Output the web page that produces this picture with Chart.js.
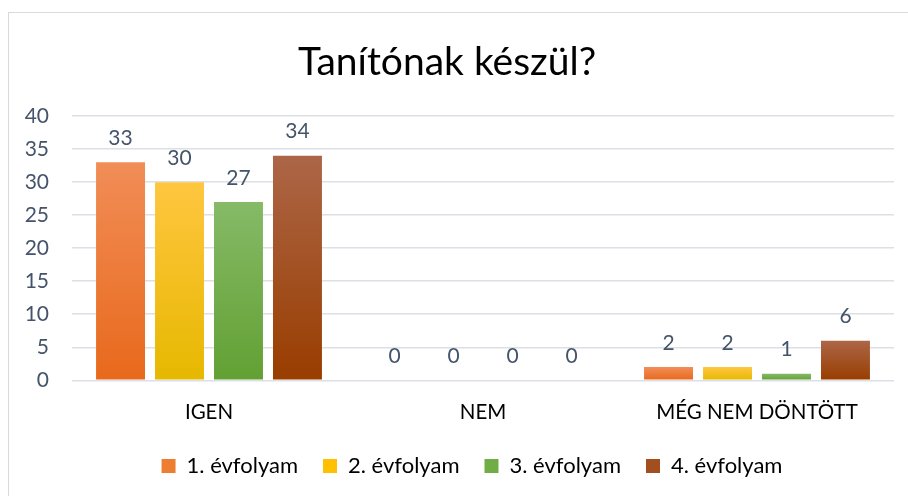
<!DOCTYPE html>
<html>
<head>
<meta charset="utf-8">
<script src="https://cdn.jsdelivr.net/npm/chart.js@4/dist/chart.umd.min.js"></script>
<style>
  html, body { margin: 0; padding: 0; background: #fff; overflow: hidden; }
  #wrap { width: 908px; height: 496px; position: relative; }
</style>
</head>
<body>
<div id="wrap"><canvas id="chart" width="908" height="496"></canvas></div>
<script>
// data
const categories = ["IGEN", "NEM", "MÉG NEM DÖNTÖTT"];
const seriesNames = ["1. évfolyam", "2. évfolyam", "3. évfolyam", "4. évfolyam"];
const evf1 = [33, 0, 2];
const evf2 = [30, 0, 2];
const evf3 = [27, 0, 1];
const evf4 = [34, 0, 6];
const yTicks = [0, 5, 10, 15, 20, 25, 30, 35, 40];

// top / bottom colours of each bar gradient
const tops = ["#F18D57", "#FFC640", "#86BA67", "#AC6647"];
const bottoms = ["#E8691C", "#E6B800", "#62A033", "#993D00"];
const mids = ["#ED7D31", "#FFC000", "#70AD47", "#A34E1F"];

const FONT = "Lato, 'Open Sans', sans-serif";

function barFill(i) {
  return function (ctx) {
    const chart = ctx.chart;
    if (!chart.chartArea || ctx.type !== "data") return mids[i];
    const y = chart.scales.y;
    const yTop = y.getPixelForValue(ctx.raw);
    const yBase = y.getPixelForValue(0);
    if (yBase - yTop < 1) return mids[i];
    const g = chart.ctx.createLinearGradient(0, yTop, 0, yBase);
    g.addColorStop(0, tops[i]);
    g.addColorStop(1, bottoms[i]);
    return g;
  };
}

// outer frame of the chart
const framePlugin = {
  id: "frame",
  beforeDraw(chart) {
    const c = chart.ctx;
    c.save();
    c.strokeStyle = "#D9D9D9";
    c.lineWidth = 1;
    c.strokeRect(8.5, 12.5, 1000, 1000);
    c.restore();
  }
};

// the legend row sits a bit right of centre in the original
const legendShift = {
  id: "legendShift",
  afterLayout(chart) {
    chart.legend.left += 25;
    chart.legend.right += 25;
  }
};

// value labels above the bars
const valueLabels = {
  id: "valueLabels",
  afterDatasetsDraw(chart) {
    const c = chart.ctx;
    c.save();
    c.font = "21px " + FONT;
    c.fillStyle = "#44546A";
    c.textAlign = "center";
    c.textBaseline = "middle";
    chart.data.datasets.forEach((ds, di) => {
      const meta = chart.getDatasetMeta(di);
      meta.data.forEach((bar, i) => {
        c.fillText(String(ds.data[i]), bar.x, bar.y - 24);
      });
    });
    c.restore();
  }
};

const allSeries = [evf1, evf2, evf3, evf4];

new Chart(document.getElementById("chart"), {
  type: "bar",
  data: {
    labels: categories,
    datasets: allSeries.map((vals, i) => ({
      label: seriesNames[i],
      data: vals,
      backgroundColor: barFill(i),
      borderWidth: 0,
      categoryPercentage: 0.861,
      barPercentage: 0.83
    }))
  },
  options: {
    responsive: false,
    animation: false,
    layout: { padding: { left: 0, right: 14, top: 0, bottom: 9 } },
    scales: {
      x: {
        afterFit(scale) { scale.height = 49.7; },
        grid: { display: false, drawTicks: false },
        border: { display: false },
        ticks: { color: "#000", font: { family: FONT, size: 20.5 }, padding: 20 }
      },
      y: {
        min: 0,
        max: 40,
        afterBuildTicks(scale) {
          scale.ticks = yTicks.map(v => ({ value: v }));
        },
        afterFit(scale) { scale.width = 72; },
        grid: { color: "#DCE0E5", lineWidth: 1.5, drawTicks: false },
        border: { display: false },
        ticks: { color: "#44546A", font: { family: FONT, size: 21 }, padding: 23 }
      }
    },
    plugins: {
      title: {
        display: true,
        text: "Tanítónak készül?",
        color: "#000",
        font: { family: FONT, size: 39, weight: "normal" },
        padding: { top: 39.5, bottom: 29.8 }
      },
      legend: {
        position: "bottom",
        labels: {
          color: "#000",
          font: { family: FONT, size: 22 },
          boxWidth: 14,
          boxHeight: 14,
          padding: 25,
          generateLabels(chart) {
            return chart.data.datasets.map((ds, i) => ({
              text: ds.label,
              fillStyle: mids[i],
              strokeStyle: mids[i],
              lineWidth: 0,
              datasetIndex: i,
              hidden: false
            }));
          }
        }
      },
      tooltip: { enabled: false }
    }
  },
  plugins: [framePlugin, legendShift, valueLabels]
});
</script>
</body>
</html>
